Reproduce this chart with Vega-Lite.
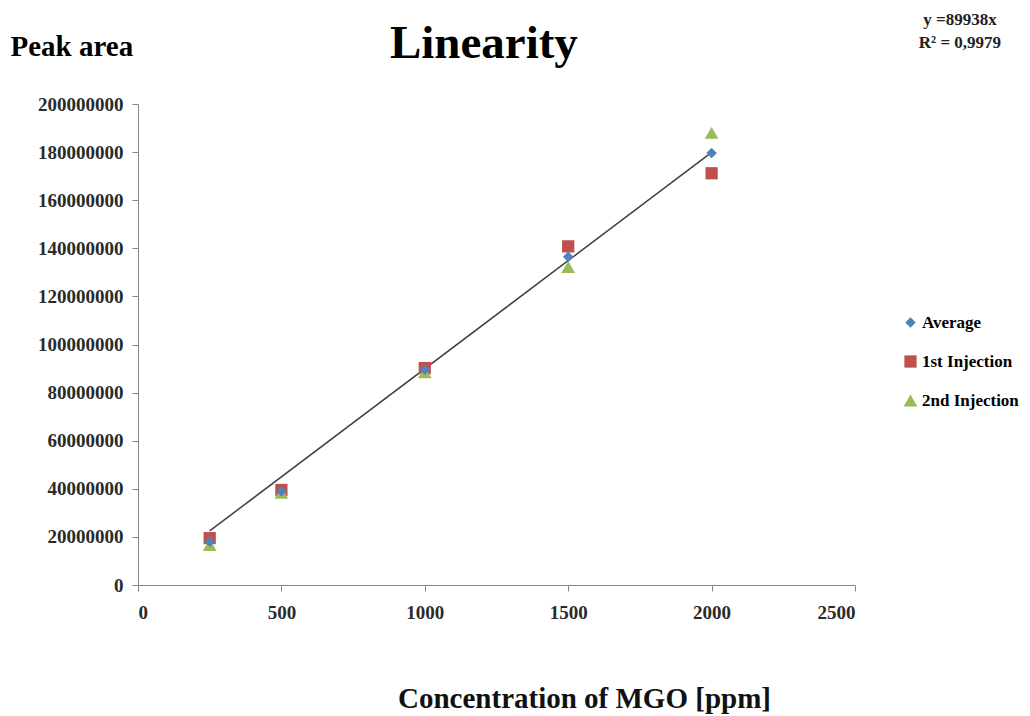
{
  "$schema": "https://vega.github.io/schema/vega-lite/v6.json",
  "autosize": {"type": "none"},
  "width": 717,
  "height": 481,
  "padding": {"left": 138, "top": 104, "right": 175, "bottom": 131},
  "background": "white",
  "config": {
    "view": {"stroke": null},
    "font": "Liberation Serif"
  },
  "datasets": {
    "points": [
      {"conc": 250, "area": 18000000, "series": "Average"},
      {"conc": 500, "area": 39000000, "series": "Average"},
      {"conc": 1000, "area": 89500000, "series": "Average"},
      {"conc": 1500, "area": 136500000, "series": "Average"},
      {"conc": 2000, "area": 179600000, "series": "Average"},
      {"conc": 250, "area": 19500000, "series": "1st Injection"},
      {"conc": 500, "area": 39500000, "series": "1st Injection"},
      {"conc": 1000, "area": 90200000, "series": "1st Injection"},
      {"conc": 1500, "area": 140800000, "series": "1st Injection"},
      {"conc": 2000, "area": 171200000, "series": "1st Injection"},
      {"conc": 250, "area": 16600000, "series": "2nd Injection"},
      {"conc": 500, "area": 38300000, "series": "2nd Injection"},
      {"conc": 1000, "area": 88500000, "series": "2nd Injection"},
      {"conc": 1500, "area": 132200000, "series": "2nd Injection"},
      {"conc": 2000, "area": 188000000, "series": "2nd Injection"}
    ],
    "trend": [
      {"conc": 250, "area": 22484500},
      {"conc": 2000, "area": 179876000}
    ],
    "notes": [
      {"conc": 2866, "area": 235000000, "label": "y =89938x"},
      {"conc": 2866, "area": 225500000, "label": "R² = 0,9979"}
    ],
    "heading": [
      {"conc": 1206, "area": 219100000, "label": "Linearity"}
    ]
  },
  "layer": [
    {
      "data": {"name": "trend"},
      "mark": {"type": "line", "color": "#3f3f3f", "strokeWidth": 1.5},
      "encoding": {
        "x": {
          "field": "conc", "type": "quantitative",
          "scale": {"domain": [0, 2500], "nice": false},
          "axis": {
            "values": [0, 500, 1000, 1500, 2000, 2500],
            "format": "d",
            "title": "Concentration of MGO [ppm]",
            "titleFont": "Liberation Serif",
            "titleFontSize": 29,
            "titleFontWeight": "bold",
            "titleColor": "#111111",
            "titleX": 446,
            "titleY": 122,
            "titleBaseline": "alphabetic",
            "titleAlign": "center",
            "labelFont": "Liberation Serif",
            "labelFontSize": 19,
            "labelFontWeight": "bold",
            "labelColor": "#2a2a2a",
            "labelPadding": 12,
            "tickSize": 6,
            "tickColor": "#868686",
            "domainColor": "#868686",
            "grid": false
          }
        },
        "y": {
          "field": "area", "type": "quantitative",
          "scale": {"domain": [0, 200000000], "nice": false},
          "axis": {
            "values": [0, 20000000, 40000000, 60000000, 80000000, 100000000, 120000000, 140000000, 160000000, 180000000, 200000000],
            "format": "d",
            "title": "Peak area",
            "titleFont": "Liberation Serif",
            "titleFontSize": 29,
            "titleFontWeight": "bold",
            "titleColor": "#000000",
            "titleAngle": 0,
            "titleAlign": "left",
            "titleBaseline": "middle",
            "titleX": -128,
            "titleY": -58,
            "labelFont": "Liberation Serif",
            "labelFontSize": 19,
            "labelFontWeight": "bold",
            "labelColor": "#2a2a2a",
            "labelPadding": 9,
            "tickSize": 6,
            "tickColor": "#868686",
            "domainColor": "#868686",
            "grid": false
          }
        }
      }
    },
    {
      "data": {"name": "points"},
      "mark": {"type": "point", "filled": true, "opacity": 1},
      "encoding": {
        "x": {"field": "conc", "type": "quantitative"},
        "y": {"field": "area", "type": "quantitative"},
        "order": {"field": "series"},
        "color": {
          "field": "series", "type": "nominal",
          "scale": {"domain": ["Average", "1st Injection", "2nd Injection"], "range": ["#4F81BD", "#C0504D", "#9BBB59"]},
          "legend": {
            "title": null,
            "orient": "none",
            "legendX": 764,
            "legendY": 210,
            "labelFont": "Liberation Serif",
            "labelFontSize": 17,
            "labelFontWeight": "bold",
            "labelColor": "#000000",
            "rowPadding": 21,
            "symbolSize": 110,
            "labelOffset": 3
          }
        },
        "shape": {
          "field": "series", "type": "nominal",
          "scale": {"domain": ["Average", "1st Injection", "2nd Injection"], "range": ["diamond", "square", "triangle-up"]},
          "legend": null
        },
        "size": {
          "field": "series", "type": "nominal",
          "scale": {"domain": ["Average", "1st Injection", "2nd Injection"], "range": [110, 190, 170]},
          "legend": null
        }
      }
    },
    {
      "data": {"name": "notes"},
      "mark": {"type": "text", "font": "Liberation Serif", "fontSize": 17, "fontWeight": "bold", "color": "#222222", "align": "center", "baseline": "middle"},
      "encoding": {
        "x": {"field": "conc", "type": "quantitative"},
        "y": {"field": "area", "type": "quantitative"},
        "text": {"field": "label"}
      }
    },
    {
      "data": {"name": "heading"},
      "mark": {"type": "text", "font": "Liberation Serif", "fontSize": 47, "fontWeight": "bold", "color": "#000000", "align": "center", "baseline": "alphabetic"},
      "encoding": {
        "x": {"field": "conc", "type": "quantitative"},
        "y": {"field": "area", "type": "quantitative"},
        "text": {"field": "label"}
      }
    }
  ]
}
